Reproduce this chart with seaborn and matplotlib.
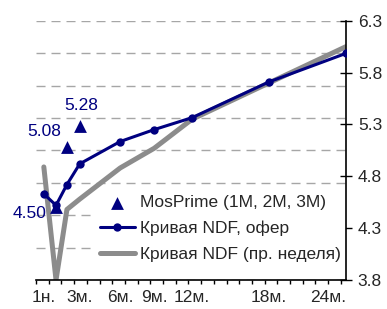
import numpy as np
import matplotlib
matplotlib.use('Agg')
import matplotlib.pyplot as plt
import seaborn as sns

# tenors on a month scale (as placed on the chart)
tenor_x = [0.45, 1.4, 2.25, 3.25, 6.4, 9.05, 12.0, 18.0, 24.0]
ndf_offer = [4.63, 4.52, 4.72, 4.92, 5.135, 5.25, 5.365, 5.71, 5.985]
ndf_prev = [4.89, 3.80, 4.48, 4.58, 4.88, 5.07, 5.35, 5.70, 6.05]

mosprime_x = [1.4, 2.25, 3.25]
mosprime = [4.50, 5.08, 5.28]
mosprime_lbl = ['4.50', '5.08', '5.28']

tick_x = [0.45, 3.25, 6.4, 9.05, 12.0, 18.0, 24.0]
tick_names = ['1н.', '3м.', '6м.', '9м.', '12м.', '18м.', '24м.']

navy = '#000080'
grey = '#8c8c8c'

sns.set_theme(style='white')
plt.rcParams['font.family'] = ['Liberation Sans', 'DejaVu Sans']
plt.rcParams['font.size'] = 12.5

fig = plt.figure(figsize=(3.87, 3.09), dpi=100)
ax = fig.add_axes([36 / 387, 1 - 280 / 309, 310 / 387, 259.3 / 309])

# dashed grid, 8 equal steps
for g in np.linspace(3.8, 6.3, 9):
    ax.axhline(g, color='#a6a6a6', lw=1.0, ls=(0, (6.5, 4.3)), zorder=0)

sns.lineplot(x=tenor_x, y=ndf_prev, ax=ax, color=grey, lw=3.6,
             sort=False, label='Кривая NDF (пр. неделя)', zorder=2)
sns.lineplot(x=tenor_x, y=ndf_offer, ax=ax, color=navy, lw=2.2,
             marker='o', markersize=6, markeredgewidth=0,
             sort=False, label='Кривая NDF, офер', zorder=3)
sns.scatterplot(x=mosprime_x, y=mosprime, ax=ax, color=navy, marker='^',
                s=85, linewidth=0, label='MosPrime (1M, 2M, 3M)', zorder=4)

offsets = [(-26, -6), (-23, 16), (1, 21)]
for xx, yy, t, off in zip(mosprime_x, mosprime, mosprime_lbl, offsets):
    ax.annotate(t, (xx, yy), xytext=off, textcoords='offset pixels',
                ha='center', va='center', color=navy, fontsize=12.5)

ax.set_xlim(-0.16, 24.0)
ax.set_ylim(3.8, 6.3)

ax.yaxis.tick_right()
ax.set_yticks(np.arange(3.8, 6.31, 0.5))
ax.set_yticklabels([f'{v:.1f}' for v in np.arange(3.8, 6.31, 0.5)])
ax.tick_params(axis='y', direction='inout', length=9, width=1, color='black',
               pad=4, labelsize=12.5, left=False, right=True)

ax.set_xticks(tick_x)
ax.set_xticklabels(tick_names)
ax.get_xticklabels()[-1].set_ha('right')
ax.set_xticks(np.arange(-0.16, 24.0, 0.99), minor=True)
ax.tick_params(axis='x', which='major', length=0, pad=7, labelsize=12.5)
ax.tick_params(axis='x', which='minor', bottom=True, direction='out',
               length=3, width=1, color='black')

for s in ['left', 'top']:
    ax.spines[s].set_visible(False)
for s in ['right', 'bottom']:
    ax.spines[s].set_color('black')
    ax.spines[s].set_linewidth(1.2)

h, l = ax.get_legend_handles_labels()
order = [2, 1, 0]
leg = ax.legend([h[i] for i in order], [l[i] for i in order],
                loc='lower right', bbox_to_anchor=(1.0, 0.05),
                borderaxespad=0, frameon=True, facecolor='white',
                edgecolor='none', framealpha=1, fontsize=12.5,
                handlelength=2.0, handletextpad=0.3, labelspacing=0.6,
                borderpad=0.3)
leg.set_zorder(1)

fig.savefig('out.png', dpi=100)
